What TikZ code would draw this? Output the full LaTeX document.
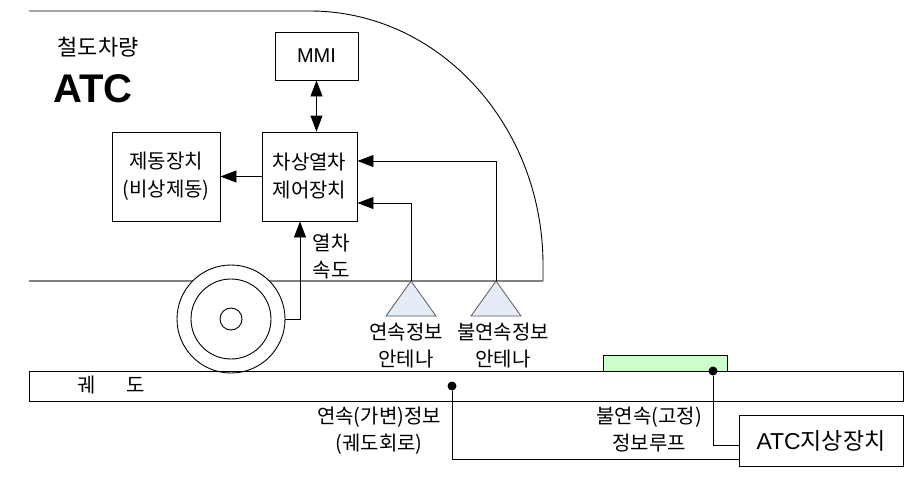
\documentclass[tikz,border=0pt]{standalone}
\usepackage{fontspec}
\setmainfont{Noto Sans CJK KR}
\newfontfamily\latinfont{Liberation Sans}
\usetikzlibrary{arrows.meta}

\definecolor{antfill}{RGB}{229,236,247}
\definecolor{loopfill}{RGB}{204,255,204}

\tikzset{
  box/.style={draw, line width=0.9pt, align=center, inner sep=0pt, font=\fontsize{20}{28}\selectfont},
  lbl/.style={align=center, inner sep=0pt, font=\fontsize{20}{27}\selectfont},
  wire/.style={line width=0.9pt},
  arr/.style={wire, -{Triangle[length=16pt,width=12pt]}},
  arrboth/.style={wire, {Triangle[length=16pt,width=12pt]}-{Triangle[length=16pt,width=12pt]}},
  dot/.style={circle, fill, inner sep=0pt, minimum size=9pt},
  antenna/.style={fill=antfill, draw=gray!70!black, line width=0.8pt},
}

\begin{document}
\begin{tikzpicture}[x=1pt,y=-1pt]
  \useasboundingbox (0,0) rectangle (919,483);

  % car body
  \draw[wire] (29,11) -- (310,11) .. controls (438.6,11) and (543,124.8) .. (543,265) -- (543,281);
  \draw[gray, line width=2pt] (29,281) -- (543,281);

  \node[lbl, font=\fontsize{22}{24}\selectfont] (car) at (98,47) {철도차량};
  \node[inner sep=0pt, font=\latinfont\bfseries\fontsize{40}{44}\selectfont] (atc) at (93,89) {ATC};

  % on-board units
  \node[box, minimum width=83pt, minimum height=48pt, font=\latinfont\fontsize{20}{22}\selectfont] (mmi) at (316.5,56) {MMI};
  \node[box, minimum width=95pt, minimum height=89pt] (ctrl) at (309.5,176.5) {차상열차\\제어장치};
  \node[box, minimum width=108pt, minimum height=89pt] (brake) at (166,176.5) {제동장치\\(비상제동)};

  % wheel
  \node[circle, draw, fill=white, line width=0.9pt, minimum size=108pt, inner sep=0pt] (wheel) at (231,319) {};
  \draw[wire] (wheel.center) circle[radius=40];
  \draw[wire] (wheel.center) circle[radius=11];

  % antennas
  \coordinate (ant1) at (411,281);
  \coordinate (ant2) at (496,281);
  \draw[antenna] (ant1) -- ++(-25,35) -- ++(50,0) -- cycle;
  \draw[antenna] (ant2) -- ++(-25,35) -- ++(50,0) -- cycle;
  \node[lbl] (ant1txt) at (406,346) {연속정보\\안테나};
  \node[lbl] (ant2txt) at (503,346) {불연속정보\\안테나};

  % track
  \draw[fill=loopfill, line width=0.8pt] (603,355) rectangle (727,371);
  \node[draw, line width=0.9pt, minimum width=874pt, minimum height=30pt, inner sep=0pt] (track) at (466,386) {};
  \node[lbl] (tracktxt) at (111,385) {궤\hspace{31pt}도};
  \node[dot] (cdot) at (452,386) {};
  \node[dot] (ldot) at (713,371) {};
  \node[lbl] (ctxt) at (379,430.5) {연속(가변)정보\\(궤도회로)};
  \node[lbl] (ltxt) at (649,430) {불연속(고정)\\정보루프};

  % wayside unit
  \node[box, minimum width=164pt, minimum height=51pt, font=\fontsize{23}{26}\selectfont] (ground) at (821,440.5) {{\latinfont ATC}지상장치};

  % connectors
  \draw[arrboth] (mmi.south) -- (mmi.south |- ctrl.north);
  \draw[arr] (ctrl.west) -- (brake.east);
  \draw[arr] (ant2) |- (ctrl.east |- 0,161);
  \draw[arr] (ant1) |- (ctrl.east |- 0,203);
  \draw[arr] (wheel.east) -| (ctrl.south -| 300,0);
  \node[lbl] (speed) at (331,257) {열차\\속도};
  \draw[wire] (cdot) |- (ground.west |- 0,459);
  \draw[wire] (ldot) |- (ground.west |- 0,445);
\end{tikzpicture}
\end{document}
